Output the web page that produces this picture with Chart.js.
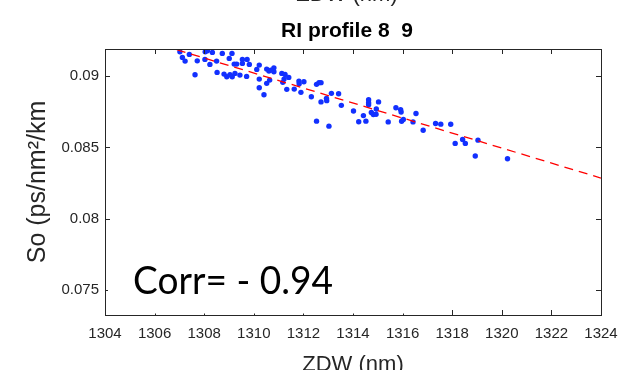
<!DOCTYPE html>
<html>
<head>
<meta charset="utf-8">
<script src="https://cdn.jsdelivr.net/npm/chart.js@4.4.1/dist/chart.umd.min.js"></script>
<style>
  html, body { margin: 0; padding: 0; background: #fff; }
  #wrap { width: 620px; height: 370px; position: relative; }
</style>
</head>
<body>
<div id="wrap"><canvas id="c"></canvas></div>
<script>
// measured points: zero dispersion wavelength vs dispersion slope
const zdw = [
  1307.02, 1307.12, 1307.23, 1307.40, 1307.63, 1307.72, 1308.04, 1308.13, 1308.03, 1308.23,
  1308.33, 1308.50, 1308.52, 1308.73, 1308.80, 1308.91, 1309.01, 1309.12, 1309.04, 1309.13,
  1309.24, 1309.21, 1309.31, 1309.44, 1309.54, 1309.54, 1309.73, 1309.82, 1309.71, 1310.12,
  1310.22, 1310.22, 1310.22, 1310.41, 1310.52, 1310.52, 1310.61, 1310.64, 1310.81, 1310.81,
  1310.69, 1311.13, 1311.17, 1311.22, 1311.26, 1311.33, 1311.41, 1311.63, 1311.82, 1311.83,
  1311.90, 1312.02, 1312.32, 1312.53, 1312.53, 1312.63, 1312.71, 1312.71, 1312.93, 1312.94,
  1313.03, 1313.13, 1313.42, 1313.53, 1314.02, 1314.23, 1314.42, 1314.52, 1314.63, 1314.63,
  1314.63, 1314.74, 1314.82, 1314.93, 1314.94, 1315.03, 1315.42, 1315.73, 1315.92, 1315.94,
  1315.96, 1316.03, 1316.42, 1316.54, 1316.83, 1317.33, 1317.54, 1317.94, 1318.12, 1318.42,
  1318.53, 1319.04, 1318.93, 1320.23
];
const so = [
  0.09170, 0.09131, 0.09105, 0.09152, 0.09009, 0.09107, 0.09170, 0.09177, 0.09117, 0.09082,
  0.09166, 0.09105, 0.09026, 0.09159, 0.09014, 0.08995, 0.09124, 0.09159, 0.09009, 0.08995,
  0.09019, 0.09084, 0.09084, 0.09007, 0.09117, 0.09089, 0.09117, 0.09082, 0.08998, 0.09047,
  0.09077, 0.08979, 0.08918, 0.08869, 0.08949, 0.09049, 0.09035, 0.08972, 0.09058, 0.09030,
  0.09042, 0.09019, 0.08956, 0.08979, 0.09012, 0.08907, 0.08991, 0.08909, 0.08965, 0.08947,
  0.08886, 0.08960, 0.08855, 0.08684, 0.08942, 0.08954, 0.08954, 0.08819, 0.08844, 0.08828,
  0.08649, 0.08879, 0.08876, 0.08795, 0.08755, 0.08680, 0.08723, 0.08684, 0.08835, 0.08814,
  0.08799, 0.08745, 0.08731, 0.08732, 0.08769, 0.08819, 0.08679, 0.08778, 0.08765, 0.08748,
  0.08683, 0.08696, 0.08679, 0.08738, 0.08620, 0.08668, 0.08663, 0.08662, 0.08528, 0.08556,
  0.08528, 0.08551, 0.08440, 0.08421
];

// linear fit end points
const fitX = [1304, 1324];
const fitY = [0.09337, 0.08285];

const xTicks = [1304, 1306, 1308, 1310, 1312, 1314, 1316, 1318, 1320, 1322, 1324];
const yTicks = [0.075, 0.08, 0.085, 0.09];
const yTickLabels = ['0.075', '0.08', '0.085', '0.09'];

const titleText = 'RI profile 8  9';
const xLabel = 'ZDW (nm)';
const yLabel = 'So (ps/nm\u00B2/km';
const corrText = 'Corr= - 0.94';

const axisColor = '#262626';
const tickFont = { family: "'Liberation Sans', Arial, sans-serif", size: 15 };

const matlabFrame = {
  id: 'matlabFrame',
  afterDraw(chart) {
    const { ctx, chartArea: a, scales } = chart;
    const tl = 5;
    ctx.save();
    ctx.strokeStyle = axisColor;
    ctx.lineWidth = 1;
    ctx.beginPath();
    xTicks.forEach(v => {
      const px = Math.round(scales.x.getPixelForValue(v)) + 0.5;
      ctx.moveTo(px, a.bottom); ctx.lineTo(px, a.bottom - tl);
      ctx.moveTo(px, a.top); ctx.lineTo(px, a.top + tl);
    });
    yTicks.forEach(v => {
      const py = Math.round(scales.y.getPixelForValue(v)) + 0.5;
      ctx.moveTo(a.left, py); ctx.lineTo(a.left + tl, py);
      ctx.moveTo(a.right, py); ctx.lineTo(a.right - tl, py);
    });
    ctx.stroke();
    ctx.strokeRect(Math.round(a.left) + 0.5, Math.round(a.top) + 0.5,
                   Math.round(a.right - a.left), Math.round(a.bottom - a.top));

    // title
    const cx = (a.left + a.right) / 2 - 6;
    ctx.fillStyle = '#000';
    ctx.font = "bold 21px 'Liberation Sans', Arial, sans-serif";
    ctx.textAlign = 'center';
    ctx.textBaseline = 'alphabetic';
    ctx.fillText(titleText, cx, a.top - 12);

    // x label of the panel above, cut by the top edge
    ctx.fillStyle = axisColor;
    ctx.font = "22px 'Liberation Sans', Arial, sans-serif";
    ctx.fillText(xLabel, cx, 1);

    // correlation text box (covers the inner ticks below it)
    ctx.fillStyle = '#fff';
    ctx.fillRect(a.left + 3, a.bottom - 70, 322, 68.5);
    ctx.fillStyle = '#000';
    ctx.font = "38px Lato, 'Open Sans', sans-serif";
    ctx.textAlign = 'left';
    const w = ctx.measureText(corrText).width;
    ctx.translate(a.left + 28, a.bottom - 21);
    ctx.scale(200 / w, 1);
    ctx.fillText(corrText, 0, 0);
    ctx.restore();
  }
};

new Chart(document.getElementById('c'), {
  type: 'scatter',
  data: {
    datasets: [
      {
        type: 'line',
        data: fitX.map((x, i) => ({ x, y: fitY[i] })),
        borderColor: '#ff0000',
        borderWidth: 1.3,
        borderDash: [9, 6],
        pointRadius: 0,
        fill: false,
        order: 0
      },
      {
        data: zdw.map((x, i) => ({ x, y: so[i] })),
        backgroundColor: '#1230ff',
        borderWidth: 0,
        pointRadius: 2.7,
        order: 1
      }
    ]
  },
  options: {
    responsive: true,
    maintainAspectRatio: false,
    animation: false,
    layout: { padding: { top: 49, right: 19, left: 0, bottom: 0 } },
    plugins: { legend: { display: false }, tooltip: { enabled: false } },
    scales: {
      x: {
        type: 'linear',
        min: 1304,
        max: 1324,
        afterBuildTicks: s => { s.ticks = xTicks.map(v => ({ value: v })); },
        afterFit: s => { s.height = 55; s.paddingLeft = 0; s.paddingRight = 0; },
        grid: { display: false, drawTicks: false },
        border: { display: false },
        ticks: { color: axisColor, font: tickFont, padding: 10, maxRotation: 0, autoSkip: false,
                 callback: v => String(v) },
        title: { display: true, text: xLabel, color: axisColor,
                 font: { family: "'Liberation Sans', Arial, sans-serif", size: 22, lineHeight: 0.5 },
                 padding: 0 }
      },
      y: {
        type: 'linear',
        min: 0.07325,
        max: 0.0919,
        afterBuildTicks: s => { s.ticks = yTicks.map(v => ({ value: v })); },
        afterFit: s => { s.width = 105; },
        grid: { display: false, drawTicks: false },
        border: { display: false },
        ticks: { color: axisColor, font: tickFont, padding: 6, autoSkip: false,
                 callback: v => yTickLabels[yTicks.indexOf(v)] ?? '' },
        title: { display: true, text: yLabel, color: axisColor,
                 font: { family: "'Liberation Sans', Arial, sans-serif", size: 25 },
                 padding: { top: 23, bottom: 0 } }
      }
    }
  },
  plugins: [matlabFrame]
});
</script>
</body>
</html>
